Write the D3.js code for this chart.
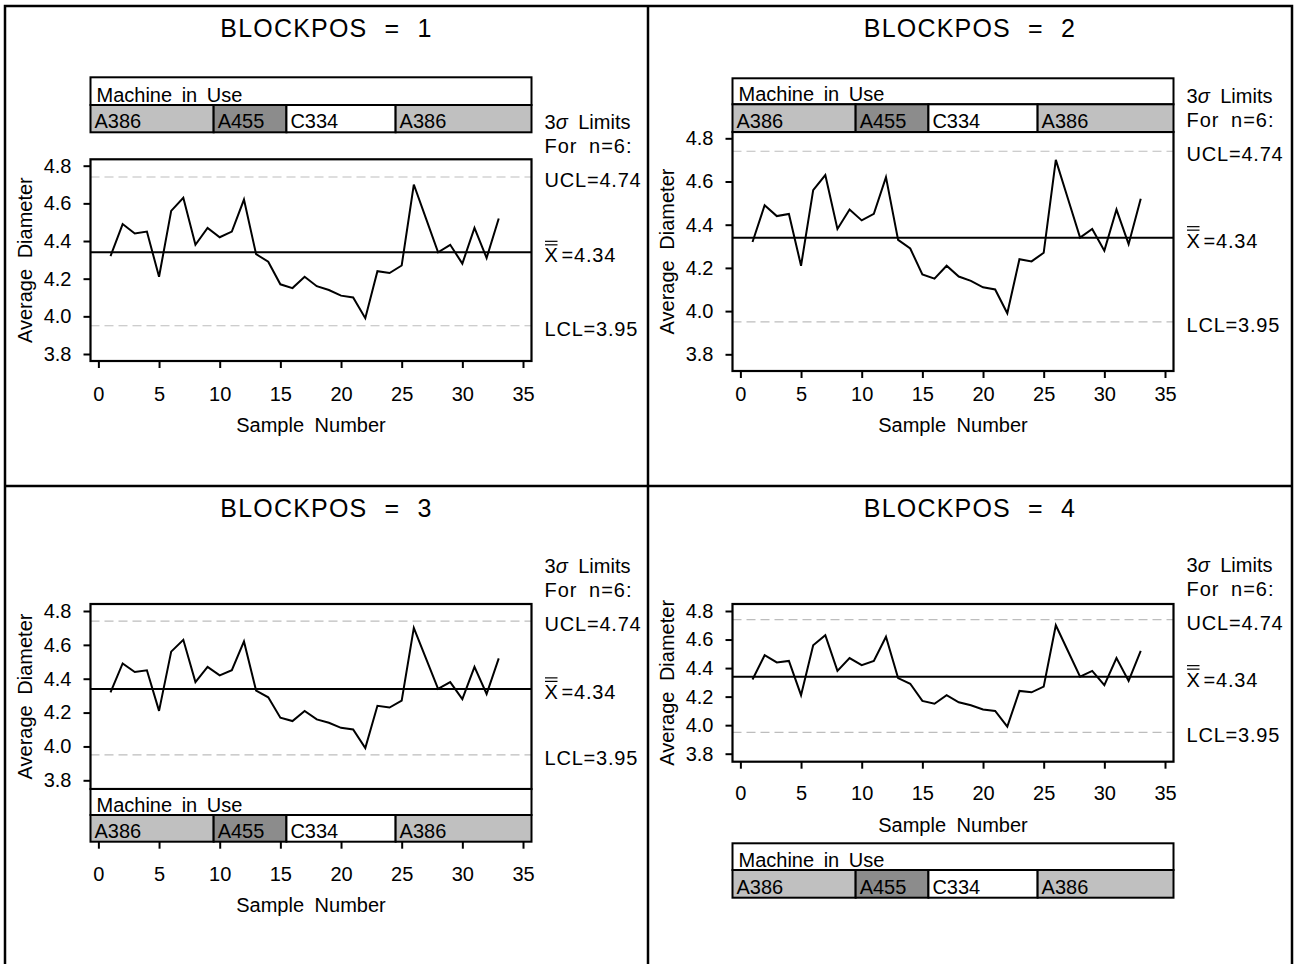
<!DOCTYPE html>
<html><head><meta charset="utf-8">
<script src="https://cdn.jsdelivr.net/npm/d3@7"></script>
<style>
html,body{margin:0;padding:0;background:#fff;}
svg{display:block;}
text{font-family:"Liberation Sans",Arial,Helvetica,sans-serif;fill:#000;}
</style></head><body>
<svg id="chart" width="1298" height="964"></svg>
<script>
// Subgroup averages of diameter, samples 1..33
const sampleNumbers = d3.range(1, 34);
const avgDiameter = [4.32, 4.49, 4.44, 4.45, 4.21, 4.56, 4.63, 4.38, 4.47, 4.42,
                     4.45, 4.62, 4.33, 4.29, 4.17, 4.15, 4.21, 4.16, 4.14, 4.11,
                     4.10, 3.99, 4.24, 4.23, 4.27, 4.70, 4.52, 4.34, 4.38, 4.28,
                     4.47, 4.31, 4.52];
// 3-sigma limits for n = 6
const centerLine = 4.34, upperLimit = 4.74, lowerLimit = 3.95;
// Machine runs (first and last sample of each run)
const machines = ["A386", "A455", "C334", "A386"];
const machineFirst = [1, 10, 16, 25];
const machineLast = [9, 15, 24, 33];
const machineFill = {A386: "#c0c0c0", A455: "#8c8c8c", C334: "#ffffff"};
const xTicks = [0, 5, 10, 15, 20, 25, 30, 35];
const yTicks = [3.8, 4.0, 4.2, 4.4, 4.6, 4.8];
const blockPos = [1, 2, 3, 4];

// Layout of the four cells: where the plot frame, axis and machine strip sit
const layout = [
  {cx: 326.5, top: 6,   L: 90.5,  frameTop: 159.3, frameBot: 361,   y38: 354,   y48: 165.7,
   axisY: 361,   lblGap: 25.3, titleY: 432, strip: {top: 77.3, mid: 105, bot: 132.3}},
  {cx: 970,   top: 6,   L: 732.5, frameTop: 132,   frameBot: 371,   y38: 354.3, y48: 138.3,
   axisY: 371,   lblGap: 15.3, titleY: 432, strip: {top: 78.3, mid: 104.3, bot: 132}},
  {cx: 326.5, top: 486, L: 90.5,  frameTop: 604,   frameBot: 789,   y38: 780.3, y48: 611,
   axisY: 841.7, lblGap: 24.8, titleY: 912, strip: {top: 789, mid: 815, bot: 841.7}},
  {cx: 970,   top: 486, L: 732.5, frameTop: 604,   frameBot: 761.7, y38: 753.7, y48: 611,
   axisY: 761.7, lblGap: 24.6, titleY: 832, strip: {top: 843.3, mid: 870, bot: 897.7}}
];
const plotW = 441;
const FS = 20;
const FONT = "\"Liberation Sans\",Arial,Helvetica,sans-serif";

const svg = d3.select("#chart");

// Cell borders
svg.append("path")
  .attr("d", "M5,968V6H1292V968M648,6V968M5,486H1292")
  .attr("fill", "none").attr("stroke", "#000").attr("stroke-width", 2.5);

const series = sampleNumbers.map((n, i) => ({n, v: avgDiameter[i]}));

blockPos.forEach((bp, pi) => {
  const P = layout[pi];
  const R = P.L + plotW;
  const g = svg.append("g");
  const x = d3.scaleLinear().domain([-0.65, 35.7]).range([P.L, R]);
  const y = d3.scaleLinear().domain([3.8, 4.8]).range([P.y38, P.y48]);

  // Cell title
  g.append("text").attr("x", P.cx).attr("y", P.top + 31)
    .attr("text-anchor", "middle").attr("font-size", 25)
    .style("letter-spacing", "1.2px").style("word-spacing", "9px")
    .text(`BLOCKPOS = ${bp}`);

  // Control limits
  [upperLimit, lowerLimit].forEach(v => {
    g.append("line").attr("x1", P.L).attr("x2", R).attr("y1", y(v)).attr("y2", y(v))
      .attr("stroke", "#bdbdbd").attr("stroke-width", 1.2).attr("stroke-dasharray", "9,5");
  });
  g.append("line").attr("x1", P.L).attr("x2", R).attr("y1", y(centerLine)).attr("y2", y(centerLine))
    .attr("stroke", "#000").attr("stroke-width", 2);

  // Subgroup means
  g.append("path").datum(series)
    .attr("fill", "none").attr("stroke", "#000").attr("stroke-width", 2)
    .attr("d", d3.line().x(d => x(d.n)).y(d => y(d.v)));

  // Plot frame
  g.append("rect").attr("x", P.L).attr("y", P.frameTop)
    .attr("width", plotW).attr("height", P.frameBot - P.frameTop)
    .attr("fill", "none").attr("stroke", "#000").attr("stroke-width", 2.2);

  // Machine strip
  const S = P.strip;
  const edges = machines.map((m, i) => i === 0 ? P.L : x(machineFirst[i] - 0.5));
  edges.push(R);
  g.append("rect").attr("x", P.L).attr("y", S.top).attr("width", plotW).attr("height", S.mid - S.top)
    .attr("fill", "#fff").attr("stroke", "#000").attr("stroke-width", 2);
  g.append("text").attr("x", P.L + 6).attr("y", S.mid - 3.5).attr("font-size", FS)
    .style("word-spacing", "4px").text("Machine in Use");
  machines.forEach((m, i) => {
    g.append("rect").attr("x", edges[i]).attr("y", S.mid)
      .attr("width", edges[i + 1] - edges[i]).attr("height", S.bot - S.mid)
      .attr("fill", machineFill[m]).attr("stroke", "#000").attr("stroke-width", 2);
    g.append("text").attr("x", edges[i] + 4).attr("y", S.bot - 4).attr("font-size", FS).text(m);
  });

  // Axes
  const ya = g.append("g").attr("transform", `translate(${P.L},0)`)
    .call(d3.axisLeft(y).tickValues(yTicks).tickFormat(d3.format(".1f")).tickSize(7).tickPadding(12));
  const xa = g.append("g").attr("transform", `translate(0,${P.axisY})`)
    .call(d3.axisBottom(x).tickValues(xTicks).tickFormat(d3.format("d")).tickSize(7).tickPadding(P.lblGap - 7));
  [ya, xa].forEach(a => {
    a.select(".domain").remove();
    a.selectAll(".tick line").attr("stroke", "#000").attr("stroke-width", 2);
    a.selectAll(".tick text").attr("font-size", FS).attr("font-family", FONT).attr("fill", "#000");
  });

  // Axis titles
  g.append("text").attr("x", (P.L + R) / 2).attr("y", P.titleY)
    .attr("text-anchor", "middle").attr("font-size", FS).style("word-spacing", "5px")
    .text("Sample Number");
  g.append("text")
    .attr("transform", `translate(${P.L - 59},${(P.frameTop + P.frameBot) / 2}) rotate(-90)`)
    .attr("text-anchor", "middle").attr("font-size", FS).style("word-spacing", "5px")
    .text("Average Diameter");

  // Limit legend
  const tx = R + 13;
  const yU = y(upperLimit);
  const head = g.append("text").attr("x", tx).attr("y", yU - 55 + 7).attr("font-size", FS)
    .style("word-spacing", "5px");
  head.append("tspan").text("3");
  head.append("tspan").attr("font-style", "italic").text("σ");
  head.append("tspan").text(" Limits");
  g.append("text").attr("x", tx).attr("y", yU - 31 + 7).attr("font-size", FS)
    .style("word-spacing", "5px").style("letter-spacing", "1px").text("For n=6:");
  g.append("text").attr("x", tx).attr("y", yU + 3 + 7).attr("font-size", FS)
    .style("letter-spacing", "0.8px").text(`UCL=${upperLimit.toFixed(2)}`);
  const yC = y(centerLine) + 3 + 7;
  g.append("text").attr("x", tx).attr("y", yC).attr("font-size", FS).text("X");
  [0, 3.5].forEach(o => {
    g.append("line").attr("x1", tx + 0.5).attr("x2", tx + 13)
      .attr("y1", yC - 17.5 - o).attr("y2", yC - 17.5 - o)
      .attr("stroke", "#000").attr("stroke-width", 1.2);
  });
  g.append("text").attr("x", tx + 17).attr("y", yC).attr("font-size", FS)
    .style("letter-spacing", "0.8px").text(`=${centerLine.toFixed(2)}`);
  g.append("text").attr("x", tx).attr("y", y(lowerLimit) + 3 + 7).attr("font-size", FS)
    .style("letter-spacing", "0.8px").text(`LCL=${lowerLimit.toFixed(2)}`);
});
</script>
</body></html>
